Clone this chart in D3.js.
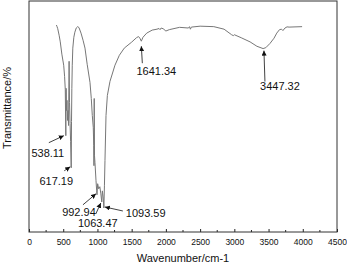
<!DOCTYPE html>
<html>
<head>
<meta charset="utf-8">
<script src="https://cdn.jsdelivr.net/npm/d3@7"></script>
<style>
  body { margin: 0; background: #fff; }
  svg text { font-family: "Liberation Sans", Arial, sans-serif; fill: #111; }
</style>
</head>
<body>
<svg width="347" height="265"></svg>
<script>
// FT-IR spectrum
var wavenumber = [400, 410, 420, 440, 457, 480, 507, 520, 530, 538, 542, 548, 555, 562, 570, 578, 586, 592, 600, 608,
    617, 621, 626, 632, 640, 655, 670, 690, 711, 730, 760, 790, 818, 850, 891, 910, 925, 939, 946, 949,
    953, 957, 964, 979, 989, 993, 1003, 1018, 1035, 1050, 1063, 1072, 1083, 1094, 1102, 1110, 1125, 1145, 1183, 1256,
    1320, 1392, 1500, 1570, 1600, 1620, 1641, 1665, 1720, 1800, 1870, 1900, 1915, 1930, 1960, 2000, 2050, 2200, 2330, 2345,
    2358, 2372, 2500, 2700, 2850, 2960, 2985, 3000, 3100, 3230, 3330, 3420, 3460, 3520, 3580, 3620, 3660, 3690, 3710, 3740,
    3770, 3800, 3990];
var transmittance = [89.6, 88.9, 88.0, 85.2, 82.3, 77.0, 72.2, 67.4, 61.7, 41.7, 62.2, 52.6, 57.0, 48.3, 52.6, 46.1, 73.9, 56.1, 47.0, 39.1,
    27.8, 47.8, 62.2, 72.2, 79.6, 84.3, 86.5, 88.3, 88.9, 88.5, 86.1, 83.0, 79.6, 72.6, 64.8, 57.8, 50.4, 45.2, 37.4, 28.7,
    57.8, 33.0, 30.0, 22.2, 17.8, 16.1, 20.9, 18.7, 19.6, 16.5, 13.0, 17.8, 15.2, 10.4, 20.0, 30.9, 50.4, 59.1, 65.2, 72.2,
    76.5, 79.6, 82.2, 84.1, 84.6, 83.9, 82.6, 84.3, 86.1, 87.4, 87.8, 88.1, 87.6, 88.3, 88.0, 87.0, 87.6, 88.6, 88.3, 88.9,
    87.8, 88.7, 89.1, 88.9, 87.8, 85.4, 85.0, 85.4, 84.1, 82.3, 80.4, 79.4, 79.8, 81.6, 83.9, 86.1, 87.6, 87.8, 87.2, 88.3,
    88.8, 88.7, 88.9];

// marked peaks
var peakWavenumber = [538.11, 617.19, 992.94, 1063.47, 1093.59, 1641.34, 3447.32];
var peakLabel = ["538.11", "617.19", "992.94", "1063.47", "1093.59", "1641.34", "3447.32"];
var peakDepth = [41.7, 27.8, 16.1, 13.0, 10.4, 82.6, 79.4];

var xTicks = [0, 500, 1000, 1500, 2000, 2500, 3000, 3500, 4000, 4500];

// label layout (pixel offsets from the peak point): tip, tail, text
var peakLayout = [
    { tip: [-2, 0], tail: [-17, 7], text: [-18, 17], anchor: "middle" },
    { tip: [-1, -1], tail: [-7, 3], text: [-15, 13], anchor: "middle" },
    { tip: [-1, -1], tail: [-14, 10], text: [-18, 17], anchor: "middle" },
    { tip: [-1, 1], tail: [-6, 12], text: [-4, 21], anchor: "middle" },
    { tip: [1, -1], tail: [19, 3], text: [22, 5], anchor: "start" },
    { tip: [0, 5], tail: [1, 22], text: [15, 30], anchor: "middle" },
    { tip: [-1, 2], tail: [0, 33], text: [15, 38], anchor: "middle" }
];

var svg = d3.select("svg");
var margin = { top: 1, right: 10, bottom: 33, left: 29 };
var width = +svg.attr("width") - margin.left - margin.right;
var height = +svg.attr("height") - margin.top - margin.bottom;

var chartG = svg.append("g")
    .attr("transform", "translate(" + margin.left + "," + margin.top + ")");

var xScale = d3.scaleLinear().domain([0, 4500]).range([0, width]);
var yScale = d3.scaleLinear().domain([0, 100]).range([height, 0]);

// arrow head
svg.append("defs").append("marker")
    .attr("id", "arrow")
    .attr("viewBox", "0 0 10 10")
    .attr("refX", 10).attr("refY", 5)
    .attr("markerWidth", 5).attr("markerHeight", 5)
    .attr("markerUnits", "userSpaceOnUse")
    .attr("orient", "auto")
    .append("path")
    .attr("d", "M0,0L10,5L0,10Z")
    .attr("fill", "#111");

// minor ticks
var minorTicks = d3.range(250, 4500, 500);
chartG.selectAll(".minor").data(minorTicks).enter().append("line")
    .attr("class", "minor")
    .attr("x1", d => xScale(d)).attr("x2", d => xScale(d))
    .attr("y1", height).attr("y2", height - 2)
    .attr("stroke", "#222").attr("stroke-width", 1);

var xAxis = d3.axisBottom(xScale).tickValues(xTicks).tickFormat(d3.format("d"))
    .tickSizeInner(-3).tickSizeOuter(0).tickPadding(7);
var gx = chartG.append("g")
    .attr("transform", "translate(0," + height + ")")
    .call(xAxis);
gx.select(".domain").remove();
gx.selectAll("line").attr("stroke", "#222");
gx.selectAll("text").style("font-size", "8.5px").attr("fill", "#111");

// frame
chartG.append("rect")
    .attr("x", 0).attr("y", 0)
    .attr("width", width).attr("height", height)
    .attr("fill", "none").attr("stroke", "#333").attr("stroke-width", 1);

// spectrum line
var spectrum = wavenumber.map((w, i) => ({ w: w, t: transmittance[i] }));
var line = d3.line()
    .x(d => xScale(d.w))
    .y(d => yScale(d.t));
chartG.append("path")
    .datum(spectrum)
    .attr("d", line)
    .attr("fill", "none")
    .attr("stroke", "#777")
    .attr("stroke-width", 1);

// peak annotations
var peaks = peakWavenumber.map((w, i) => ({ w: w, t: peakDepth[i], label: peakLabel[i], lay: peakLayout[i] }));
var pg = chartG.selectAll(".peak").data(peaks).enter().append("g").attr("class", "peak");
pg.append("line")
    .attr("x1", d => xScale(d.w) + d.lay.tail[0])
    .attr("y1", d => yScale(d.t) + d.lay.tail[1])
    .attr("x2", d => xScale(d.w) + d.lay.tip[0])
    .attr("y2", d => yScale(d.t) + d.lay.tip[1])
    .attr("stroke", "#111").attr("stroke-width", 0.8)
    .attr("marker-end", "url(#arrow)");
pg.append("text")
    .attr("x", d => xScale(d.w) + d.lay.text[0])
    .attr("y", d => yScale(d.t) + d.lay.text[1])
    .attr("dy", "0.35em")
    .style("text-anchor", d => d.lay.anchor)
    .style("font-size", "11px")
    .text(d => d.label);

// axis titles
svg.append("text")
    .attr("x", margin.left + width / 2)
    .attr("y", 262)
    .style("text-anchor", "middle")
    .style("font-size", "11px")
    .text("Wavenumber/cm-1");

svg.append("text")
    .attr("transform", "rotate(-90)")
    .attr("x", -108)
    .attr("y", 11)
    .style("text-anchor", "middle")
    .style("font-size", "11px")
    .text("Transmittance/%");
</script>
</body>
</html>
